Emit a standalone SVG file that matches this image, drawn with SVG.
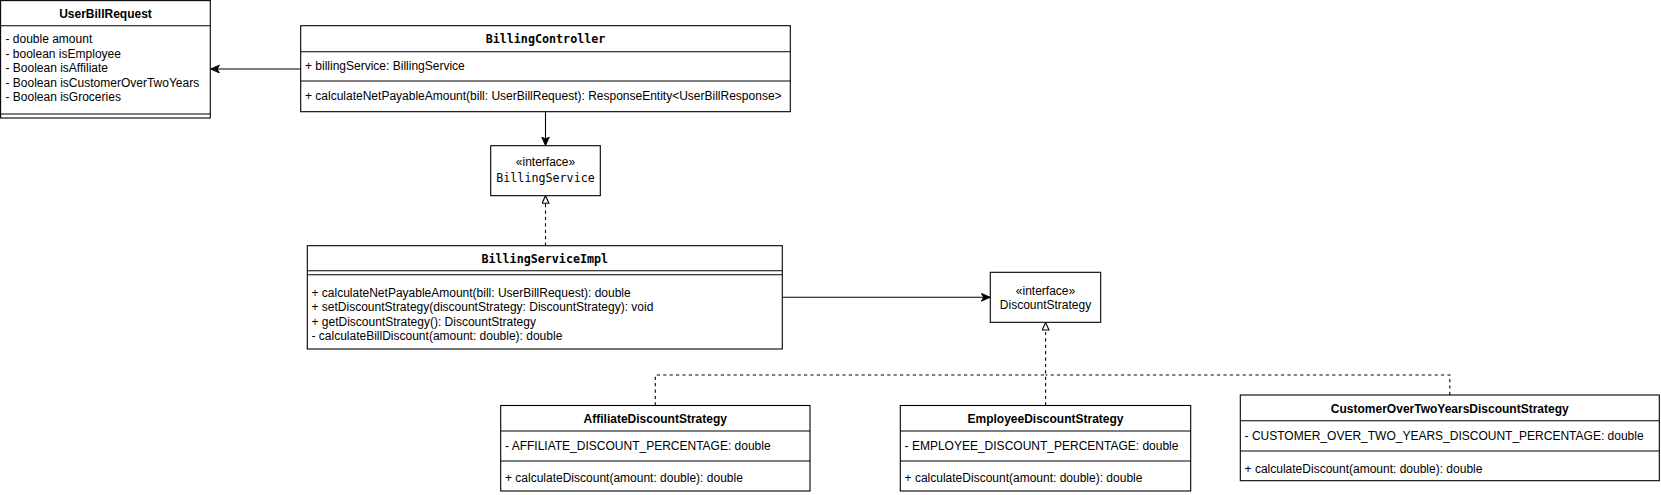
<svg xmlns="http://www.w3.org/2000/svg" width="1661" height="495" viewBox="0 0 1661 495">
  <defs>
    <style>
      .box { fill: #ffffff; stroke: #000000; stroke-width: 1.1; }
      .sep { stroke: #000000; stroke-width: 1.1; fill: none; }
      .t { font-family: "Liberation Sans", Arial, Helvetica, sans-serif; font-size: 12px; fill: #000000; dominant-baseline: central; }
      .title { font-weight: bold; text-anchor: middle; }
      .mid { text-anchor: middle; }
      .mono { font-family: "DejaVu Sans Mono", "Liberation Mono", monospace; font-size: 11.7px; fill: #000000; dominant-baseline: central; text-anchor: middle; }
      .monob { font-weight: bold; }
      .edge { fill: none; stroke: #000000; stroke-width: 1.1; }
      .dash { fill: none; stroke: #000000; stroke-width: 1.1; stroke-dasharray: 3.2 3.2; }
    </style>
    <marker id="arrow" markerUnits="userSpaceOnUse" markerWidth="10" markerHeight="9" refX="9" refY="4" orient="auto">
      <path d="M0,0 L9,4 L0,8 L2.3,4 Z" fill="#000000" stroke="#000000" stroke-width="0.8" stroke-linejoin="miter"/>
    </marker>
    <marker id="tri" markerUnits="userSpaceOnUse" markerWidth="10" markerHeight="9" refX="8" refY="3.6" orient="auto">
      <path d="M0.5,0.2 L8,3.6 L0.5,7 Z" fill="#ffffff" stroke="#000000" stroke-width="1.1" stroke-dasharray="none"/>
    </marker>
  </defs>
  <rect width="1661" height="495" fill="#ffffff"/>

  <g id="connectors">
    <line class="edge" x1="300.7" y1="69" x2="210.5" y2="69" marker-end="url(#arrow)"/>
    <line class="edge" x1="545.5" y1="111.7" x2="545.5" y2="145.7" marker-end="url(#arrow)"/>
    <line class="dash" x1="545.5" y1="245.7" x2="545.5" y2="195.7" marker-end="url(#tri)"/>
    <line class="edge" x1="782.3" y1="297.3" x2="990.3" y2="297.3" marker-end="url(#arrow)"/>
    <line class="dash" x1="1045.6" y1="405.5" x2="1045.6" y2="322.5" marker-end="url(#tri)"/>
    <polyline class="dash" points="655.3,405.5 655.3,375 1045.6,375"/>
    <polyline class="dash" points="1449.8,395 1449.8,375 1045.6,375"/>
  </g>

  <g id="UserBillRequest">
    <rect class="box" x="0.6" y="0.6" width="209.7" height="117.4"/>
    <line class="sep" x1="0.6" y1="25.7" x2="210.3" y2="25.7"/>
    <line class="sep" x1="0.6" y1="114" x2="210.3" y2="114"/>
    <text class="t title" x="105.5" y="13.5">UserBillRequest</text>
    <text class="t" x="5.5" y="39">- double amount</text>
    <text class="t" x="5.5" y="53.6">- boolean isEmployee</text>
    <text class="t" x="5.5" y="68.2">- Boolean isAffiliate</text>
    <text class="t" x="5.5" y="82.8">- Boolean isCustomerOverTwoYears</text>
    <text class="t" x="5.5" y="97.4">- Boolean isGroceries</text>
  </g>

  <g id="BillingController">
    <rect class="box" x="300.7" y="25.7" width="489.6" height="86"/>
    <line class="sep" x1="300.7" y1="51.7" x2="790.3" y2="51.7"/>
    <line class="sep" x1="300.7" y1="81" x2="790.3" y2="81"/>
    <text class="mono monob" x="545.5" y="38.5">BillingController</text>
    <text class="t" x="305" y="65.7">+ billingService: BillingService</text>
    <text class="t" x="305" y="96">+ calculateNetPayableAmount(bill: UserBillRequest): ResponseEntity&lt;UserBillResponse&gt;</text>
  </g>

  <g id="BillingService">
    <rect class="box" x="490.7" y="145.7" width="109.6" height="50"/>
    <text class="t mid" x="545.5" y="161.7">«interface»</text>
    <text class="mono" x="545.5" y="178">BillingService</text>
  </g>

  <g id="BillingServiceImpl">
    <rect class="box" x="307.3" y="245.7" width="475" height="103.3"/>
    <line class="sep" x1="307.3" y1="270.7" x2="782.3" y2="270.7"/>
    <line class="sep" x1="307.3" y1="274.7" x2="782.3" y2="274.7"/>
    <text class="mono monob" x="544.8" y="259">BillingServiceImpl</text>
    <text class="t" x="311.5" y="293">+ calculateNetPayableAmount(bill: UserBillRequest): double</text>
    <text class="t" x="311.5" y="307.3">+ setDiscountStrategy(discountStrategy: DiscountStrategy): void</text>
    <text class="t" x="311.5" y="321.6">+ getDiscountStrategy(): DiscountStrategy</text>
    <text class="t" x="311.5" y="335.5">- calculateBillDiscount(amount: double): double</text>
  </g>

  <g id="DiscountStrategy">
    <rect class="box" x="990.3" y="272.3" width="110.4" height="50"/>
    <text class="t mid" x="1045.5" y="290.5">«interface»</text>
    <text class="t mid" x="1045.5" y="305">DiscountStrategy</text>
  </g>

  <g id="AffiliateDiscountStrategy">
    <rect class="box" x="500.7" y="405.5" width="309.3" height="85.5"/>
    <line class="sep" x1="500.7" y1="431" x2="810" y2="431"/>
    <line class="sep" x1="500.7" y1="461" x2="810" y2="461"/>
    <text class="t title" x="655.3" y="419">AffiliateDiscountStrategy</text>
    <text class="t" x="505" y="445.5">- AFFILIATE_DISCOUNT_PERCENTAGE: double</text>
    <text class="t" x="505" y="478">+ calculateDiscount(amount: double): double</text>
  </g>

  <g id="EmployeeDiscountStrategy">
    <rect class="box" x="900.3" y="405.5" width="290.4" height="85.5"/>
    <line class="sep" x1="900.3" y1="431" x2="1190.7" y2="431"/>
    <line class="sep" x1="900.3" y1="461" x2="1190.7" y2="461"/>
    <text class="t title" x="1045.5" y="419">EmployeeDiscountStrategy</text>
    <text class="t" x="904.6" y="445.5">- EMPLOYEE_DISCOUNT_PERCENTAGE: double</text>
    <text class="t" x="904.6" y="478">+ calculateDiscount(amount: double): double</text>
  </g>

  <g id="CustomerOverTwoYearsDiscountStrategy">
    <rect class="box" x="1240.3" y="395" width="419" height="85.7"/>
    <line class="sep" x1="1240.3" y1="420.7" x2="1659.3" y2="420.7"/>
    <line class="sep" x1="1240.3" y1="451" x2="1659.3" y2="451"/>
    <text class="t title" x="1449.8" y="408.5">CustomerOverTwoYearsDiscountStrategy</text>
    <text class="t" x="1244.6" y="436">- CUSTOMER_OVER_TWO_YEARS_DISCOUNT_PERCENTAGE: double</text>
    <text class="t" x="1244.6" y="468.5">+ calculateDiscount(amount: double): double</text>
  </g>
</svg>
